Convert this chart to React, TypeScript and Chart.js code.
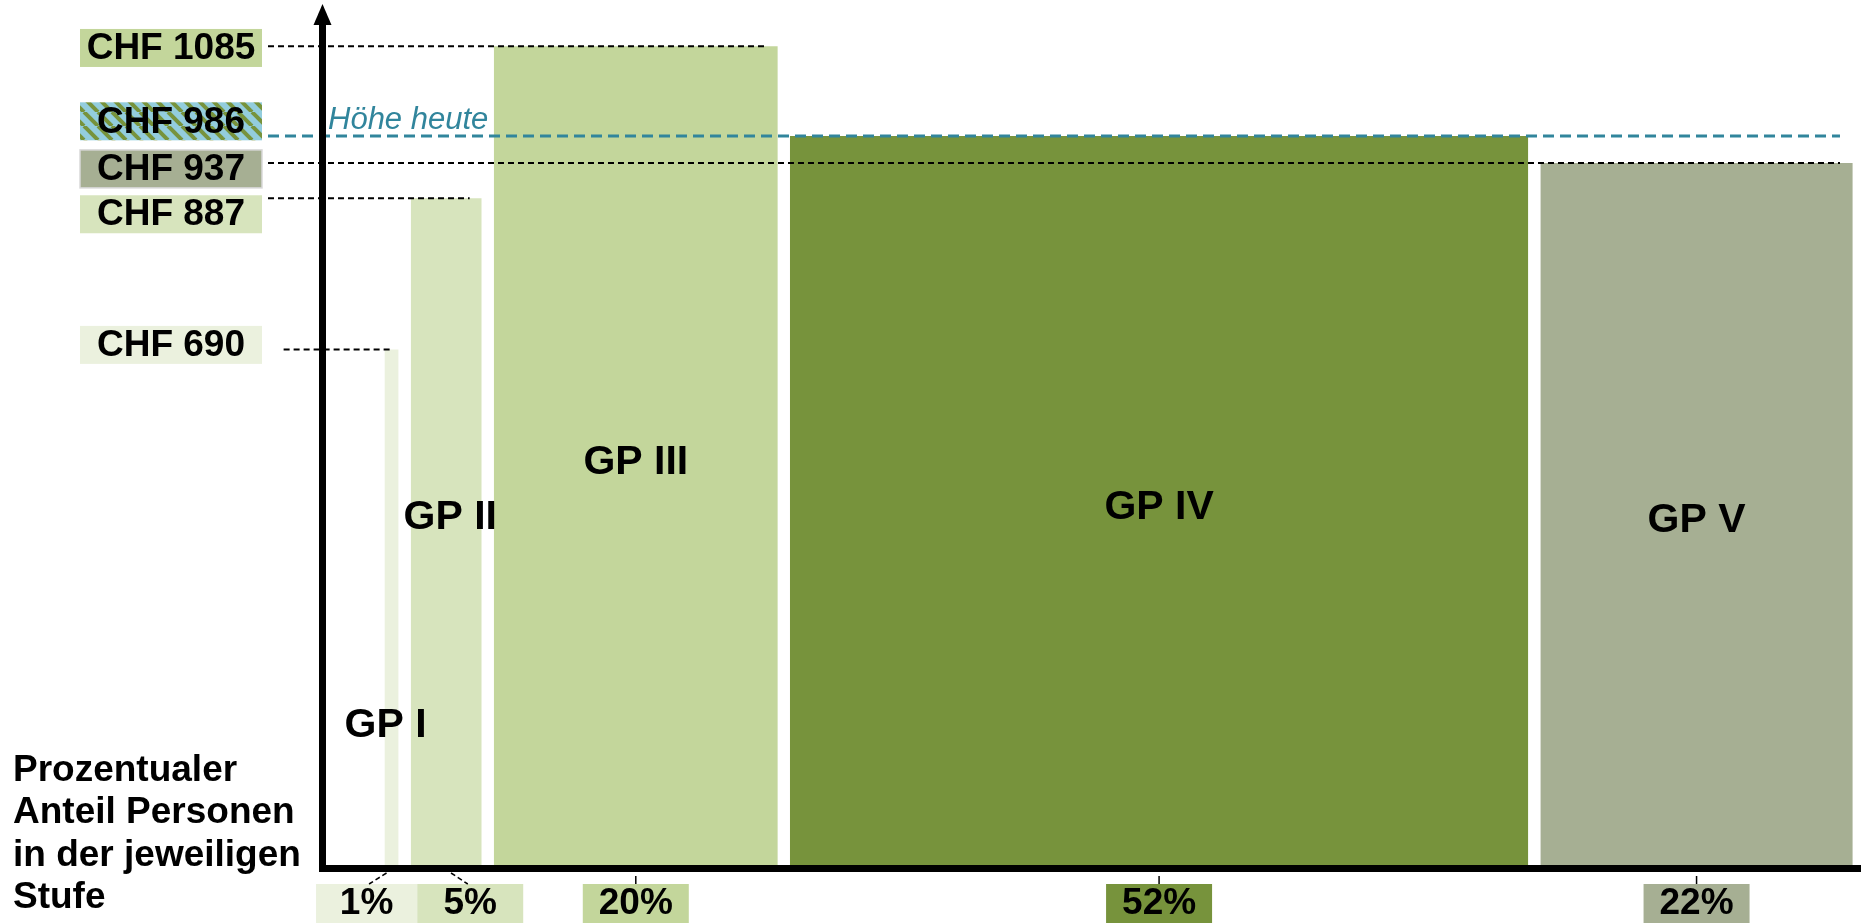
import React, { useEffect, useRef } from "react";
import { Chart, registerables } from "chart.js";

Chart.register(...registerables);

// ---------- data ----------
const groups = ["GP I", "GP II", "GP III", "GP IV", "GP V"];
const shares = [1, 5, 20, 52, 22]; // percent of persons per level
const shareLabels = ["1%", "5%", "20%", "52%", "22%"];
const barValues = [690, 887, 1085, 968, 933]; // bar heights as drawn (CHF)
const barColors = ["#ebf1de", "#d7e4bd", "#c3d69b", "#77933c", "#a6af93"];

const refLabels = ["CHF 1085", "CHF 986", "CHF 937", "CHF 887", "CHF 690"];
const refLabelValues = [1085, 986, 937, 887, 690];
const refLineValues = [1085, 968, 933, 887, 690]; // where the dashed lines are drawn
const refLineStart = [-3.8, -3.8, -3.8, -3.8, -2.7];
const refLineEnd = [31.3, 106.9, 106.9, 10.4, 4.9];
const refBoxColors = ["#c3d69b", "stripes", "#a6af93", "#d7e4bd", "#ebf1de"];
const refLineColors = ["#000000", "#31859c", "#000000", "#000000", "#000000"];
const heuteLabel = "Höhe heute";
const axisTitle = ["Prozentualer", "Anteil Personen", "in der jeweiligen", "Stufe"];

// ---------- layout ----------
const W = 1863;
const H = 923;
const GAP = 0.85;
const OFFSET = 4.4;
const X_MIN = -3.8;
const X_MAX = 108.38;
const Y_MIN = 14;
const Y_MAX = 1135;
const labelNudge = [1.6, -1, 9, 16, -4.5];
const gpHeightFrac = [0.29, 0.53, 0.5, 0.5, 0.5];
const gpShiftX = [-6, 4, 0, 0, 0];
const pctShiftX = [-25, 24, 0, 0, 0];
const FONT = '"Liberation Sans", Arial, Helvetica, sans-serif';

const ranges: number[][] = [];
{
  let cur = OFFSET;
  for (const s of shares) {
    ranges.push([cur, cur + s]);
    cur += s + GAP;
  }
}

function makeStripes(ctx: CanvasRenderingContext2D): CanvasPattern | string {
  const c = document.createElement("canvas");
  const n = 14;
  c.width = n;
  c.height = n;
  const g = c.getContext("2d");
  if (!g) return "#93cddd";
  g.fillStyle = "#93cddd";
  g.fillRect(0, 0, n, n);
  g.strokeStyle = "#77933c";
  g.lineWidth = 4;
  for (const off of [-n, 0, n]) {
    g.beginPath();
    g.moveTo(off, 0);
    g.lineTo(off + n, n);
    g.stroke();
  }
  return ctx.createPattern(c, "repeat") || "#93cddd";
}

const overlay = {
  id: "overlay",
  afterDatasetsDraw(chart: any) {
    const { ctx, chartArea } = chart;
    const xs = chart.scales.x;
    const ys = chart.scales.y;
    const x0 = Math.round(xs.getPixelForValue(0));
    const yb = chartArea.bottom;
    ctx.save();

    // axes
    ctx.fillStyle = "#000";
    ctx.fillRect(x0 - 3, yb - 3, chartArea.right - (x0 - 3), 7);
    ctx.fillRect(x0 - 3, 20, 7, yb + 4 - 20);
    ctx.beginPath();
    ctx.moveTo(x0 + 0.5, 4);
    ctx.lineTo(x0 - 8.5, 25);
    ctx.lineTo(x0 + 9.5, 25);
    ctx.closePath();
    ctx.fill();

    // group labels
    ctx.font = `bold 41px ${FONT}`;
    ctx.textAlign = "center";
    ctx.textBaseline = "middle";
    ctx.fillStyle = "#000";
    groups.forEach((g, i) => {
      const cx = xs.getPixelForValue((ranges[i][0] + ranges[i][1]) / 2) + gpShiftX[i];
      const cy = ys.getPixelForValue(barValues[i] * gpHeightFrac[i]);
      ctx.fillText(g, cx, cy);
    });

    // "Höhe heute"
    const hy = ys.getPixelForValue(refLineValues[1]);
    ctx.font = `italic 31px ${FONT}`;
    ctx.textAlign = "left";
    ctx.textBaseline = "alphabetic";
    ctx.fillStyle = "#31859c";
    ctx.fillText(heuteLabel, x0 + 6, hy - 7);

    // left value labels
    const stripes = makeStripes(ctx);
    refLabels.forEach((lab, i) => {
      const cy = ys.getPixelForValue(refLabelValues[i]) + labelNudge[i];
      const bx = 80;
      const bw = 182;
      const bh = 38;
      ctx.fillStyle = refBoxColors[i] === "stripes" ? stripes : refBoxColors[i];
      ctx.fillRect(bx, cy - bh / 2, bw, bh);
      if (i === 2) {
        ctx.strokeStyle = "#d9d9d9";
        ctx.lineWidth = 1.5;
        ctx.strokeRect(bx, cy - bh / 2, bw, bh);
      }
      ctx.fillStyle = "#000";
      ctx.font = `bold 37px ${FONT}`;
      ctx.textAlign = "center";
      ctx.textBaseline = "middle";
      ctx.fillText(lab, bx + bw / 2, cy + 1);
    });

    // share boxes under the x-axis
    shareLabels.forEach((lab, i) => {
      const bc = xs.getPixelForValue((ranges[i][0] + ranges[i][1]) / 2);
      const boxc = bc + pctShiftX[i];
      const bw = i === 0 ? 101 : 106;
      const top = yb + 16;
      ctx.fillStyle = barColors[i];
      ctx.fillRect(boxc - bw / 2, top, bw, 40);
      ctx.strokeStyle = "#000";
      ctx.lineWidth = 1.5;
      ctx.beginPath();
      if (pctShiftX[i] !== 0) {
        const d = boxc - bc;
        ctx.setLineDash([5, 3]);
        ctx.moveTo(bc + d * 0.2, yb + 5);
        ctx.lineTo(bc + d * 0.9, top);
      } else {
        ctx.setLineDash([]);
        ctx.moveTo(bc, yb + 8);
        ctx.lineTo(bc, top);
      }
      ctx.stroke();
      ctx.setLineDash([]);
      ctx.fillStyle = "#000";
      ctx.font = `bold 37px ${FONT}`;
      ctx.textAlign = "center";
      ctx.textBaseline = "middle";
      ctx.fillText(lab, boxc, top + 20);
    });

    // axis title
    ctx.fillStyle = "#000";
    ctx.font = `bold 37px ${FONT}`;
    ctx.textAlign = "left";
    ctx.textBaseline = "alphabetic";
    axisTitle.forEach((t, i) => {
      ctx.fillText(t, 13, yb - 87 + i * 42.3);
    });

    ctx.restore();
  },
};

export default function App() {
  const ref = useRef<HTMLCanvasElement>(null);

  useEffect(() => {
    if (!ref.current) return;
    const barSets = groups.map((g, i) => ({
      label: g,
      data: [
        { x: ranges[i][0], y: barValues[i] },
        { x: ranges[i][1], y: barValues[i] },
      ],
      fill: "start",
      backgroundColor: barColors[i],
      borderColor: barColors[i],
      borderWidth: 0,
      pointRadius: 0,
      tension: 0,
      order: 2,
    }));
    const lineSets = refLabels.map((lab, i) => ({
      label: lab,
      data: [
        { x: refLineStart[i], y: refLineValues[i] },
        { x: refLineEnd[i], y: refLineValues[i] },
      ],
      fill: false,
      borderColor: refLineColors[i],
      borderWidth: i === 1 ? 3 : 2,
      borderDash: i === 1 ? [11, 6] : [6, 4],
      pointRadius: 0,
      order: 1,
    }));
    const chart = new Chart(ref.current, {
      type: "line",
      data: { datasets: [...lineSets, ...barSets] as any },
      options: {
        animation: false,
        responsive: false,
        devicePixelRatio: 1,
        layout: { padding: { left: 268, right: 2, top: 8, bottom: 55 } },
        scales: {
          x: { type: "linear", min: X_MIN, max: X_MAX, display: false },
          y: { type: "linear", min: Y_MIN, max: Y_MAX, display: false },
        },
        plugins: {
          legend: { display: false },
          tooltip: { enabled: false },
        },
      },
      plugins: [overlay],
    });
    return () => chart.destroy();
  }, []);

  return (
    <div style={{ position: "fixed", left: 0, top: 0, width: W, height: H, background: "#fff" }}>
      <canvas ref={ref} width={W} height={H} style={{ display: "block" }} />
    </div>
  );
}
